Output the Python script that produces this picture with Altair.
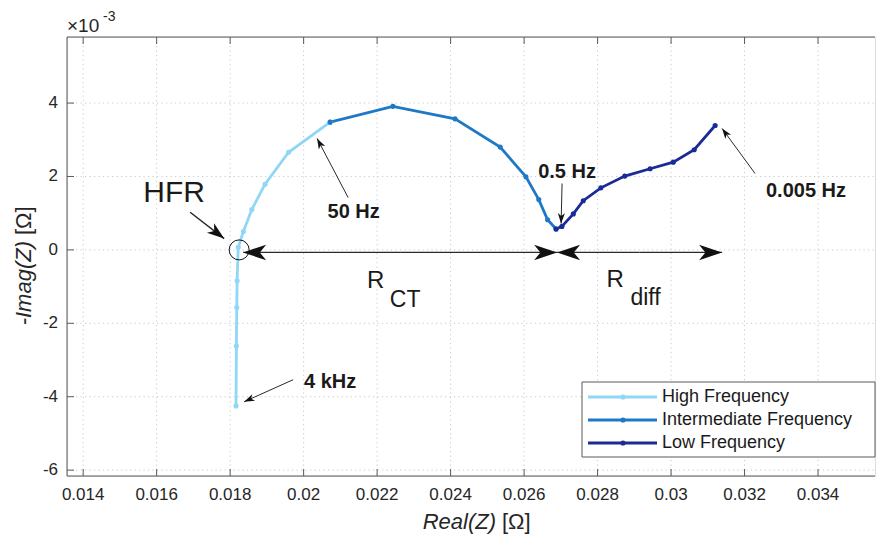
import math
import altair as alt
import pandas as pd

# ---------------- data ----------------
series_names = ["High Frequency", "Intermediate Frequency", "Low Frequency"]
series_colors = ["#8fd7f5", "#1e78c6", "#1a2b96"]

high_re = [0.01816, 0.01817, 0.01818, 0.01819, 0.01822, 0.01836, 0.01859, 0.01895, 0.01959, 0.02072]
high_im = [-4.25, -2.62, -1.57, -0.84, 0.07, 0.50, 1.10, 1.79, 2.66, 3.48]
mid_re = [0.02072, 0.02243, 0.02412, 0.02535, 0.02605, 0.02640, 0.02664, 0.02687]
mid_im = [3.48, 3.91, 3.57, 2.80, 1.99, 1.37, 0.82, 0.57]
low_re = [0.02687, 0.02703, 0.02734, 0.02761, 0.02809, 0.02874, 0.02943, 0.03006, 0.03063, 0.03120]
low_im = [0.57, 0.64, 0.98, 1.34, 1.69, 2.01, 2.21, 2.39, 2.73, 3.39]

x_ticks = [0.014, 0.016, 0.018, 0.02, 0.022, 0.024, 0.026, 0.028, 0.03, 0.032, 0.034]
y_ticks = [-6, -4, -2, 0, 2, 4]

# annotation arrows (start -> tip), data units
arrow_x0 = [0.016912, 0.021211, 0.019714, 0.027034, 0.032286, 0.022626, 0.022626, 0.029143, 0.029143]
arrow_y0 = [1.025, 1.426, -3.537, 1.808, 2.081, -0.07, -0.07, -0.07, -0.07]
arrow_x1 = [0.017837, 0.020367, 0.018381, 0.027007, 0.031388, 0.018354, 0.026898, 0.026898, 0.031388]
arrow_y1 = [0.308, 3.035, -4.137, 0.717, 3.308, -0.07, -0.07, -0.07, -0.07]
arrow_kind = ["hfr", "small", "small", "small", "small", "big", "big", "big", "big"]

# bold frequency labels
freq_text = ["50 Hz", "4 kHz", "0.5 Hz", "0.005 Hz"]
freq_x = [0.021361, 0.020721, 0.027170, 0.033673]
freq_y = [1.03, -3.59, 2.12, 1.617]

# big labels
big_text = ["HFR", "R", "CT", "R", "diff"]
big_x = [0.016476, 0.021959, 0.022762, 0.028476, 0.029306]
big_y = [1.56, -0.837, -1.355, -0.81, -1.314]
big_size = [30, 24, 23, 24, 23]

hfr_circle_x = [0.018245]
hfr_circle_y = [0.0]

# ---------------- layout / style ----------------
W, H = 808, 439
X_DOM = [0.01356, 0.03555]
Y_DOM = [-6.16, 5.8]
FONT = "Liberation Sans"
FRAME = "#5a5a5a"
TXT = "#1a1a1a"
LBL = "#262626"

px_x = W / (X_DOM[1] - X_DOM[0])
px_y = H / (Y_DOM[1] - Y_DOM[0])

xs = alt.Scale(domain=X_DOM, nice=False, zero=False)
ys = alt.Scale(domain=Y_DOM, nice=False, zero=False)

rows = []
for name, rr, ii in zip(series_names, [high_re, mid_re, low_re], [high_im, mid_im, low_im]):
    for k, (a, b) in enumerate(zip(rr, ii)):
        rows.append({"series": name, "re": a, "im": b, "k": k})
df = pd.DataFrame(rows)

color = alt.Color("series:N", scale=alt.Scale(domain=series_names, range=series_colors), legend=None)


def fx(field):
    return alt.X(field, scale=xs, axis=None)


def fy(field):
    return alt.Y(field, scale=ys, axis=None)


one = pd.DataFrame({"a": [0]})
xt = alt.Chart(pd.DataFrame({"t": x_ticks})).transform_calculate(lab="'' + datum.t")
yt = alt.Chart(pd.DataFrame({"t": y_ticks})).transform_calculate(lab="'' + datum.t")

# grid (dotted)
grid = alt.layer(
    xt.mark_rule(color="#c9c9c9", strokeWidth=1, strokeDash=[1.2, 3.3]).encode(
        x=fx("t:Q"), y=alt.value(0), y2=alt.value(H)),
    yt.mark_rule(color="#c9c9c9", strokeWidth=1, strokeDash=[1.2, 3.3]).encode(
        y=fy("t:Q"), x=alt.value(0), x2=alt.value(W)),
)

# frame (top, left, bottom)
frame = alt.layer(
    alt.Chart(one).mark_rule(color=FRAME, strokeWidth=1).encode(x=alt.value(0), x2=alt.value(W), y=alt.value(0)),
    alt.Chart(one).mark_rule(color=FRAME, strokeWidth=1).encode(x=alt.value(0), x2=alt.value(W), y=alt.value(H)),
    alt.Chart(one).mark_rule(color=FRAME, strokeWidth=1).encode(x=alt.value(0), y=alt.value(0), y2=alt.value(H)),
)

ticks = alt.layer(
    xt.mark_rule(color=FRAME, strokeWidth=1).encode(x=fx("t:Q"), y=alt.value(H), y2=alt.value(H - 7)),
    xt.mark_rule(color=FRAME, strokeWidth=1).encode(x=fx("t:Q"), y=alt.value(0), y2=alt.value(7)),
    yt.mark_rule(color=FRAME, strokeWidth=1).encode(y=fy("t:Q"), x=alt.value(0), x2=alt.value(7)),
)

tick_labels = alt.layer(
    xt.mark_text(font=FONT, fontSize=17, color=LBL, align="center", baseline="middle").encode(
        x=fx("t:Q"), y=alt.value(H + 19), text="lab:N"),
    yt.mark_text(font=FONT, fontSize=17, color=LBL, align="right", baseline="middle").encode(
        y=fy("t:Q"), x=alt.value(-9), text="lab:N"),
)

lines = alt.Chart(df).mark_line(strokeWidth=2.8).encode(
    x=fx("re:Q"), y=fy("im:Q"), color=color, detail="series:N", order="k:Q"
)
pts = alt.Chart(df).mark_circle(size=26, opacity=1).encode(x=fx("re:Q"), y=fy("im:Q"), color=color)

# arrows
head_size = {"hfr": 300, "small": 110, "big": 529}
shaft_w = {"hfr": 1.5, "small": 1.0, "big": 1.3}
ar = []
for a0, b0, a1, b1, kd in zip(arrow_x0, arrow_y0, arrow_x1, arrow_y1, arrow_kind):
    ang = math.degrees(math.atan2(-(b1 - b0) * px_y, (a1 - a0) * px_x)) % 360
    ar.append({"x0": a0, "y0": b0, "x1": a1, "y1": b1, "ang": ang,
               "sz": head_size[kd], "sw": shaft_w[kd]})
adf = pd.DataFrame(ar)
HEAD = "M0,0L-2,-0.68L-1.45,0L-2,0.68Z"
shafts = alt.Chart(adf).mark_rule(color="#2a2a2a").encode(
    x=fx("x0:Q"), y=fy("y0:Q"), x2="x1:Q", y2="y1:Q", strokeWidth=alt.StrokeWidth("sw:Q", scale=None)
)
heads = alt.Chart(adf).mark_point(filled=True, shape=HEAD, color="#111111", opacity=1, strokeWidth=0).encode(
    x=fx("x1:Q"), y=fy("y1:Q"), angle=alt.Angle("ang:Q", scale=None), size=alt.Size("sz:Q", scale=None)
)

circle = alt.Chart(pd.DataFrame({"x": hfr_circle_x, "y": hfr_circle_y})).mark_point(
    shape="circle", filled=False, size=400, color="#111111", strokeWidth=1, opacity=1
).encode(x=fx("x:Q"), y=fy("y:Q"))

fdf = pd.DataFrame({"t": freq_text, "x": freq_x, "y": freq_y})
freq_labels = alt.Chart(fdf).mark_text(font=FONT, fontSize=20, fontWeight="bold", color=TXT,
                                       align="center", baseline="middle").encode(
    x=fx("x:Q"), y=fy("y:Q"), text="t:N")

bdf = pd.DataFrame({"t": big_text, "x": big_x, "y": big_y, "s": big_size})
big_labels = alt.Chart(bdf).mark_text(font=FONT, color=TXT, align="center", baseline="middle").encode(
    x=fx("x:Q"), y=fy("y:Q"), text="t:N", size=alt.Size("s:Q", scale=None))

# axis titles and exponent
titles = alt.layer(
    alt.Chart(one).mark_text(text="Real(Z)", font=FONT, fontSize=22, fontStyle="italic", color=LBL,
                             align="right", baseline="middle").encode(x=alt.value(429), y=alt.value(485)),
    alt.Chart(one).mark_text(text="[Ω]", font=FONT, fontSize=22, color=LBL,
                             align="left", baseline="middle").encode(x=alt.value(435), y=alt.value(485)),
    alt.Chart(one).mark_text(text="-Imag(Z)", font=FONT, fontSize=22, fontStyle="italic", color=LBL,
                             align="right", baseline="middle", angle=270).encode(x=alt.value(-43), y=alt.value(204)),
    alt.Chart(one).mark_text(text="[Ω]", font=FONT, fontSize=22, color=LBL,
                             align="left", baseline="middle", angle=270).encode(x=alt.value(-43), y=alt.value(198)),
    alt.Chart(one).mark_text(text="×10", font=FONT, fontSize=19, color=LBL,
                             align="left", baseline="middle").encode(x=alt.value(0), y=alt.value(-11)),
    alt.Chart(one).mark_text(text="-3", font=FONT, fontSize=14, color=LBL,
                             align="left", baseline="middle").encode(x=alt.value(36), y=alt.value(-20)),
)

# legend (manual, inside the axes, lower right)
ldf = pd.DataFrame({"series": series_names, "row": [0, 1, 2]})
leg_base = alt.Chart(ldf).transform_calculate(ly="360 + 23 * datum.row")
legend = alt.layer(
    alt.Chart(one).mark_rect(fill="white", stroke=FRAME, strokeWidth=1).encode(
        x=alt.value(515), x2=alt.value(808), y=alt.value(345), y2=alt.value(420)),
    leg_base.mark_rule(strokeWidth=2.8).encode(
        x=alt.value(521), x2=alt.value(590), y=alt.Y("ly:Q", scale=None), color=color),
    leg_base.mark_circle(size=26, opacity=1).encode(
        x=alt.value(556), y=alt.Y("ly:Q", scale=None), color=color),
    leg_base.mark_text(font=FONT, fontSize=18, color="#1a1a1a", align="left", baseline="middle").encode(
        x=alt.value(595), y=alt.Y("ly:Q", scale=None), text="series:N"),
)

chart = alt.layer(
    grid, lines, frame, ticks, tick_labels, pts, shafts, heads, circle, freq_labels, big_labels, titles, legend
).properties(
    width=W, height=H,
    padding={"left": 67, "top": 37, "right": 1, "bottom": 63},
    autosize=alt.AutoSizeParams(type="none"),
).configure_view(stroke=None).configure(background="white")

chart.save("out.html", embed_options={"renderer": "svg", "actions": False})
